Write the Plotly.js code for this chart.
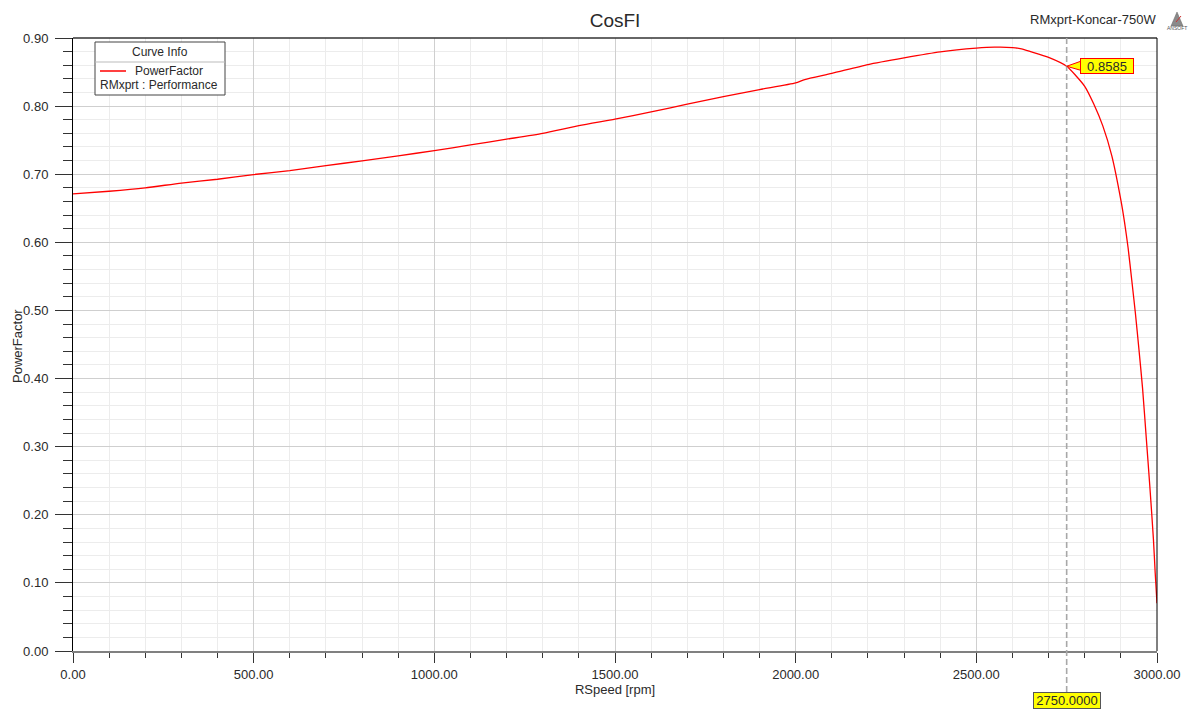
<!DOCTYPE html>
<html>
<head>
<meta charset="utf-8">
<script src="https://cdn.plot.ly/plotly-3.0.1.min.js"></script>
<style>
  html, body { margin: 0; padding: 0; background: #ffffff; }
  #chart { width: 1196px; height: 710px; }
</style>
</head>
<body>
<div id="chart"></div>
<script>
// ---- data ----
const rpm = [0, 100, 200, 300, 400, 500, 600, 700, 800, 900, 1000, 1100, 1200, 1300, 1400,
  1500, 1600, 1700, 1800, 1900, 2000, 2025, 2100, 2200, 2300, 2400, 2500, 2550, 2600,
  2625, 2650, 2700, 2750, 2775, 2800, 2825, 2850, 2875, 2900, 2910, 2920, 2930, 2940,
  2950, 2960, 2970, 2980, 2990, 2995, 3000];
const powerFactor = [0.671, 0.675, 0.680, 0.687, 0.6926, 0.6995, 0.7053, 0.7127, 0.7195,
  0.7269, 0.7347, 0.743, 0.7514, 0.760, 0.7714, 0.781, 0.7915, 0.8028, 0.814, 0.8243,
  0.834, 0.839, 0.848, 0.861, 0.8708, 0.8796, 0.885, 0.8865, 0.886, 0.884, 0.880, 0.8715,
  0.8585, 0.845, 0.829, 0.803, 0.771, 0.727, 0.662, 0.630, 0.592, 0.545, 0.497,
  0.443, 0.386, 0.315, 0.243, 0.165, 0.115, 0.070];
const markerX = 2750;
const markerY = 0.8585;
const xTickVals = [0, 500, 1000, 1500, 2000, 2500, 3000];
const yTickVals = [0, 0.1, 0.2, 0.3, 0.4, 0.5, 0.6, 0.7, 0.8, 0.9];
const chartTitle = "CosFI";
const projectName = "RMxprt-Koncar-750W";
const xTitle = "RSpeed [rpm]";
const yTitle = "PowerFactor";
const legendHeader = "Curve Info";
const legendSeries = "PowerFactor";
const legendSource = "RMxprt : Performance";

// ---- layout helpers (plot area in pixels) ----
const W = 1196, H = 710;
const L = 73, R = 1157, T = 38, B = 651;
const px = v => (v - L) / (R - L);
const py = v => (B - v) / (B - T);
const font = "Liberation Sans, Arial, sans-serif";
const txt = "#2a2a2a";

const trace = {
  x: rpm, y: powerFactor, type: "scatter", mode: "lines",
  line: { color: "#ff0000", width: 1.3, shape: "spline", smoothing: 0.6 },
  hoverinfo: "x+y", showlegend: false
};

const shapes = [
  // top & right frame
  { type: "line", xref: "paper", yref: "paper", x0: 0, x1: 1, y0: 1, y1: 1, line: { color: "#333333", width: 1.5 } },
  { type: "line", xref: "paper", yref: "paper", x0: 1, x1: 1, y0: 0, y1: 1, line: { color: "#000000", width: 1 } },
  // marker dashed line
  { type: "line", xref: "x", yref: "paper", x0: markerX, x1: markerX, y0: py(692), y1: 1,
    line: { color: "#a8a8a8", width: 1.6, dash: "6px,3px" } },
  // callout wedge
  { type: "path", xref: "x", yref: "y", xsizemode: "pixel", ysizemode: "pixel",
    xanchor: markerX, yanchor: markerY, path: "M0,0 L14,5 L14,-4 Z",
    fillcolor: "#ffff00", line: { color: "#ff0000", width: 1 } },
  // legend box
  { type: "rect", xref: "paper", yref: "paper", x0: px(95), x1: px(225), y0: py(95), y1: py(42),
    fillcolor: "#ffffff", line: { color: "#444444", width: 1 } },
  { type: "line", xref: "paper", yref: "paper", x0: px(95), x1: px(225), y0: py(62), y1: py(62),
    line: { color: "#bbbbbb", width: 1 } },
  { type: "line", xref: "paper", yref: "paper", x0: px(100), x1: px(126), y0: py(71), y1: py(71),
    line: { color: "#ff0000", width: 1.5 } },
  // ANSOFT logo triangle
  { type: "path", xref: "paper", yref: "paper",
    path: `M${px(1171)},${py(26)} L${px(1177)},${py(12)} L${px(1183)},${py(26)} Z`,
    fillcolor: "#8a8a8a", line: { color: "#666666", width: 0.5 } },
  { type: "line", xref: "paper", yref: "paper", x0: px(1176), x1: px(1181), y0: py(22), y1: py(16),
    line: { color: "#cc3333", width: 1 } }
];

const annotations = [
  { text: projectName, xref: "paper", yref: "paper", x: px(1158), y: py(19), xanchor: "right", yanchor: "middle",
    showarrow: false, font: { family: font, size: 13, color: txt } },
  { text: "ANSOFT", xref: "paper", yref: "paper", x: px(1177), y: py(28), xanchor: "center", yanchor: "middle",
    showarrow: false, font: { family: font, size: 5, color: "#555" } },
  { text: yTitle, xref: "paper", yref: "paper", x: px(17), y: py(346), xanchor: "center", yanchor: "middle",
    textangle: -90, showarrow: false, font: { family: font, size: 13, color: txt } },
  { text: legendHeader, xref: "paper", yref: "paper", x: px(160), y: py(52), xanchor: "center", yanchor: "middle",
    showarrow: false, font: { family: font, size: 12, color: txt } },
  { text: legendSeries, xref: "paper", yref: "paper", x: px(133), y: py(71), xanchor: "left", yanchor: "middle",
    showarrow: false, font: { family: font, size: 12, color: txt } },
  { text: legendSource, xref: "paper", yref: "paper", x: px(98), y: py(85), xanchor: "left", yanchor: "middle",
    showarrow: false, font: { family: font, size: 12, color: txt } },
  { text: markerY.toFixed(4), xref: "x", yref: "y", x: markerX, y: markerY, xanchor: "left", yanchor: "middle",
    xshift: 13, showarrow: false, bgcolor: "#ffff00", bordercolor: "#ff0000", borderwidth: 1, borderpad: 0,
    width: 52, height: 14, font: { family: font, size: 13, color: txt } },
  { text: markerX.toFixed(4), xref: "x", yref: "paper", x: markerX, y: py(700.5), xanchor: "center", yanchor: "middle",
    showarrow: false, bgcolor: "#ffff00", bordercolor: "#555555", borderwidth: 1, borderpad: 0,
    width: 66, height: 15, font: { family: font, size: 13, color: txt } }
];

const layout = {
  width: W, height: H,
  margin: { l: L, r: W - R, t: T, b: H - B, pad: 0 },
  paper_bgcolor: "#ffffff", plot_bgcolor: "#ffffff",
  font: { family: font, size: 13, color: txt },
  title: { text: chartTitle, x: 0.5, xref: "paper", y: 1 - 20 / H, yanchor: "middle",
    font: { family: font, size: 19, color: txt } },
  xaxis: {
    range: [0, 3000], tickvals: xTickVals, tickformat: ".2f",
    showgrid: true, gridcolor: "#cfcfcf", gridwidth: 1,
    ticks: "outside", ticklen: 10, tickcolor: "#333333", tickwidth: 1,
    showline: true, linecolor: "#808080", linewidth: 2, zeroline: false,
    minor: { dtick: 100, showgrid: true, gridcolor: "#ececec", gridwidth: 1, ticks: "outside", ticklen: 5, tickcolor: "#333333" },
    title: { text: xTitle, standoff: 4, font: { family: font, size: 13, color: txt } },
    tickfont: { family: font, size: 13, color: txt }, fixedrange: true
  },
  yaxis: {
    range: [0, 0.9], tickvals: yTickVals, tickformat: ".2f",
    showgrid: true, gridcolor: "#cfcfcf", gridwidth: 1,
    ticks: "outside", ticklen: 17, tickcolor: "#333333", tickwidth: 1,
    showline: true, linecolor: "#000000", linewidth: 1, zeroline: false,
    minor: { dtick: 0.02, showgrid: true, gridcolor: "#ececec", gridwidth: 1, ticks: "outside", ticklen: 9, tickcolor: "#333333" },
    ticklabelstandoff: 4,
    tickfont: { family: font, size: 13, color: txt }, fixedrange: true
  },
  shapes: shapes,
  annotations: annotations,
  showlegend: false
};

Plotly.newPlot("chart", [trace], layout, { displayModeBar: false, staticPlot: true });
</script>
</body>
</html>
